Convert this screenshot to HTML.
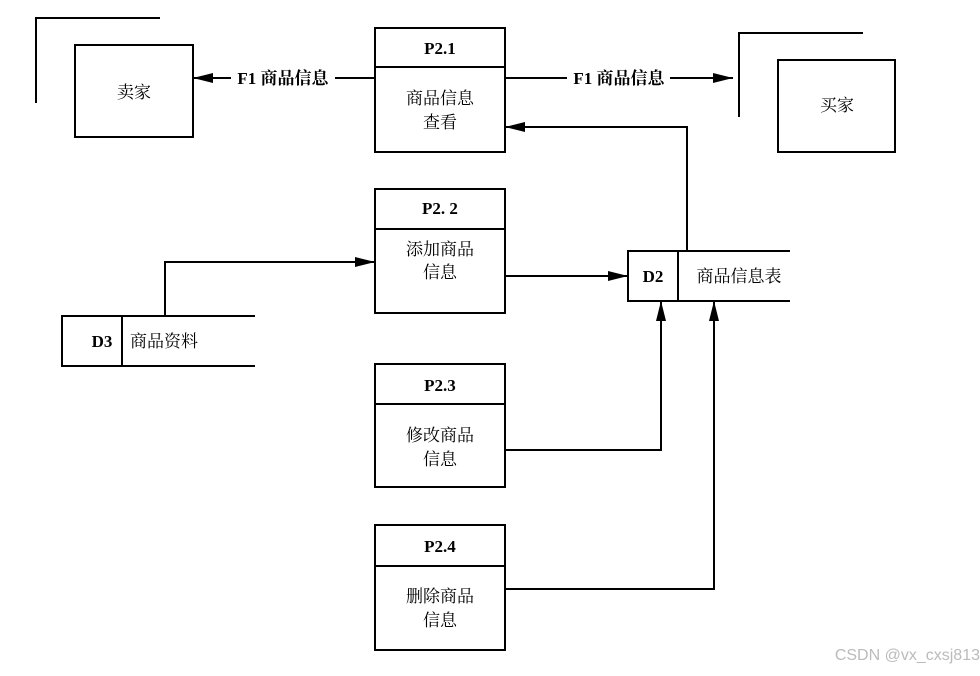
<!DOCTYPE html>
<html><head><meta charset="utf-8"><style>
body{margin:0;background:#fff;}
svg text{font-family:"Liberation Serif","Noto Serif CJK SC",serif;fill:#000;}
</style></head><body>
<svg width="980" height="671" viewBox="0 0 980 671" xmlns="http://www.w3.org/2000/svg">
<defs><marker id="a" markerWidth="10" markerHeight="8" refX="10" refY="4" orient="auto" markerUnits="userSpaceOnUse"><path d="M0,0L20,4L0,8z" fill="#000"/></marker>
<marker id="ah" viewBox="0 0 20 10" markerWidth="20" markerHeight="10" refX="20" refY="5" orient="auto" markerUnits="userSpaceOnUse"><path d="M0,0L20,5L0,10z" fill="#000"/></marker></defs>
<g stroke="#000" stroke-width="2" fill="none">
<polyline points="36,103 36,18 160,18"/>
<rect x="75" y="45" width="118" height="92"/>
<polyline points="739,117 739,33 863,33"/>
<rect x="778" y="60" width="117" height="92"/>
<rect x="375" y="28" width="130" height="124"/><line x1="375" y1="67" x2="505" y2="67"/>
<rect x="375" y="189" width="130" height="124"/><line x1="375" y1="229" x2="505" y2="229"/>
<rect x="375" y="364" width="130" height="123"/><line x1="375" y1="404" x2="505" y2="404"/>
<rect x="375" y="525" width="130" height="125"/><line x1="375" y1="566" x2="505" y2="566"/>
<polyline points="255,316 62,316 62,366 255,366"/><line x1="122" y1="316" x2="122" y2="366"/>
<polyline points="790,251 628,251 628,301 790,301"/><line x1="678" y1="251" x2="678" y2="301"/>
<line x1="375" y1="78" x2="335" y2="78"/><line x1="231" y1="78" x2="193" y2="78" marker-end="url(#ah)"/>
<line x1="505" y1="78" x2="567" y2="78"/><line x1="670" y1="78" x2="733" y2="78" marker-end="url(#ah)"/>
<polyline points="687,251 687,127 505,127" marker-end="url(#ah)"/>
<polyline points="165,316 165,262 375,262" marker-end="url(#ah)"/>
<line x1="505" y1="276" x2="628" y2="276" marker-end="url(#ah)"/>
<polyline points="505,450 661,450 661,301" marker-end="url(#ah)"/>
<polyline points="505,589 714,589 714,301" marker-end="url(#ah)"/>
</g>
<g font-size="17" text-anchor="middle">
<text x="134" y="98">卖家</text>
<text x="837" y="111">买家</text>
<text x="440" y="54" font-weight="bold">P2.1</text>
<text x="440" y="104">商品信息</text><text x="440" y="128">查看</text>
<text x="440" y="214" font-weight="bold">P2. 2</text>
<text x="440" y="255">添加商品</text><text x="440" y="278">信息</text>
<text x="440" y="391" font-weight="bold">P2.3</text>
<text x="440" y="441">修改商品</text><text x="440" y="465">信息</text>
<text x="440" y="552" font-weight="bold">P2.4</text>
<text x="440" y="602">删除商品</text><text x="440" y="626">信息</text>
<text x="283" y="84" font-weight="bold">F1 商品信息</text>
<text x="619" y="84" font-weight="bold">F1 商品信息</text>
<text x="653" y="282" font-weight="bold">D2</text>
<text x="739" y="282">商品信息表</text>
<text x="102" y="347" font-weight="bold">D3</text>
</g>
<text x="130" y="347" font-size="17">商品资料</text>
<text x="980" y="660" font-size="16" text-anchor="end" style="font-family:'Liberation Sans',sans-serif;fill:#bbb">CSDN @vx_cxsj813</text>
</svg>
</body></html>
